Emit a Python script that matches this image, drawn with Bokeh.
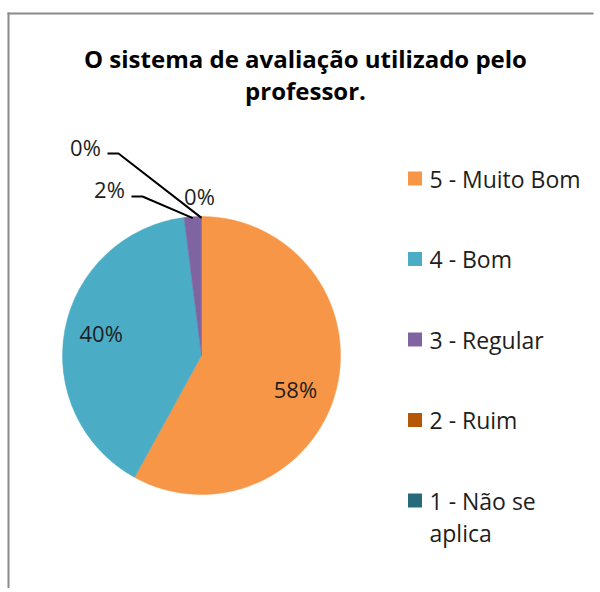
import math
from bokeh.plotting import figure
from bokeh.models import Range1d
from bokeh.embed import file_html
from bokeh.resources import INLINE
from bokeh.core.properties import value

# ---- data ----
categories = ["5 - Muito Bom", "4 - Bom", "3 - Regular", "2 - Ruim", "1 - Não se aplica"]
legend_labels = ["5 - Muito Bom", "4 - Bom", "3 - Regular", "2 - Ruim", "1 - Não se\naplica"]
counts = [29, 20, 1, 0, 0]
colors = ["#F79646", "#4BACC6", "#8064A2", "#B65708", "#276A7C"]
title_lines = ["O sistema de avaliação utilizado pelo", "professor."]

# ---- layout (pixel space of the figure) ----
W, H = 596, 588
def X(x):
    return x
def Y(y):
    return H - y

FONT = value("Open Sans")
TXT = "#1e1e1e"

p = figure(width=W, height=H, x_range=Range1d(0, W), y_range=Range1d(0, H),
           output_backend="svg", toolbar_location=None, min_border=0)
p.axis.visible = False
p.grid.visible = False
p.outline_line_color = None
p.background_fill_color = "white"
p.border_fill_color = "white"

# chart area border (left and top edges visible)
p.line([X(8), X(8)], [0, Y(12)], line_color="#8a8a8a", line_width=2)
p.line([X(7), W - 3], [Y(13), Y(13)], line_color="#8a8a8a", line_width=2)

# title
for i, t in enumerate(title_lines):
    p.text(x=[X(305)], y=[Y(58 + i * 31.5)], text=[t], text_align="center",
           text_baseline="middle", text_font=FONT, text_font_size="24px",
           text_font_style="bold", text_color="#000000")

# pie
cx, cy, r = X(201), Y(355), 139
total = sum(counts)
fracs = [c / total for c in counts]
starts, ends, mids = [], [], []
acc = 0.0
for f in fracs:
    starts.append(math.pi / 2 - acc * 2 * math.pi)
    mids.append(math.pi / 2 - (acc + f / 2) * 2 * math.pi)
    acc += f
    ends.append(math.pi / 2 - acc * 2 * math.pi)

for i, c in enumerate(counts):
    if c == 0:
        continue
    p.wedge(x=cx, y=cy, radius=r, start_angle=starts[i], end_angle=ends[i],
            direction="clock", fill_color=colors[i], line_color=colors[i], line_width=0.5)

pct = [f"{round(100 * f)}%" for f in fracs]

# inside labels for large slices (small layout nudges after radial placement)
nudge = {0: (-3, -9), 1: (-2, 4)}
for i, f in enumerate(fracs):
    if f >= 0.1:
        dx, dy = nudge.get(i, (0, 0))
        lx = cx + 0.72 * r * math.cos(mids[i]) + dx
        ly = cy + 0.72 * r * math.sin(mids[i]) + dy
        p.text(x=[lx], y=[ly], text=[pct[i]], text_align="center", text_baseline="middle",
               text_font=FONT, text_font_size="22px", text_color=TXT)

# outside labels for tiny slices (label anchor positions = layout)
outside = {2: (X(109), Y(188), X(131), X(142), Y(196)),
           3: (X(85), Y(146), X(107), X(118), Y(153)),
           4: (X(199), Y(195), None, None, None)}
for i, (tx, ty, l0, l1, ly) in outside.items():
    p.text(x=[tx], y=[ty], text=[pct[i]], text_align="center", text_baseline="middle",
           text_font=FONT, text_font_size="22px", text_color=TXT)
    if l0 is not None:
        ex = cx + 0.99 * r * math.cos(mids[i])
        ey = cy + 0.99 * r * math.sin(mids[i])
        p.line([l0, l1, ex], [ly, ly, ey], line_color="#000000", line_width=2)

# legend
for i, lab in enumerate(legend_labels):
    mid = 178 + i * 80.5
    p.rect(x=[X(414.5)], y=[Y(mid)], width=14, height=14,
           fill_color=colors[i], line_color=None)
    for k, line in enumerate(lab.split("\n")):
        p.text(x=[X(429)], y=[Y(mid + k * 32)], text=[line], text_align="left",
               text_baseline="middle", text_font=FONT, text_font_size="23px",
               text_color=TXT)

open("out.html", "w").write(file_html(p, INLINE))
